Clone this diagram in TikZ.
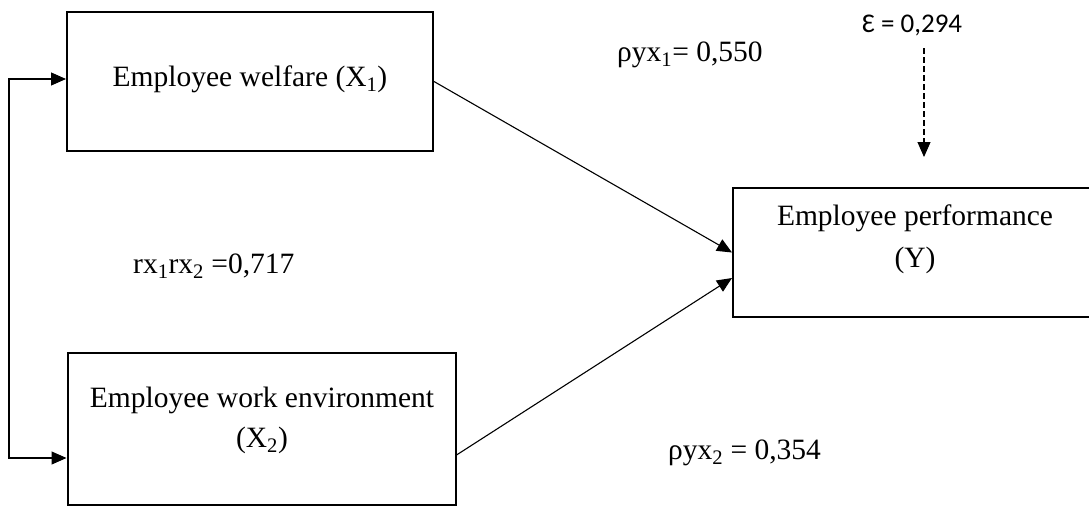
\documentclass[tikz,border=0pt]{standalone}
\usepackage{fontspec}
\setmainfont{Liberation Serif}
\newfontfamily\calib{Carlito}
\usetikzlibrary{arrows.meta}
\tikzset{
  boxnode/.style={draw, line width=2pt, minimum width=#1, inner sep=0pt},
  txt/.style={font=\fontsize{29.5}{34}\selectfont, inner sep=0pt, align=center},
  tip/.style={Triangle[length=15pt,width=13pt]},
  conn/.style={line width=1.1pt, -{Triangle[length=15pt,width=13pt]}},
}
\newcommand{\sbs}[1]{\textsubscript{#1}}
\begin{document}
\begin{tikzpicture}[x=1pt,y=-1pt]
\useasboundingbox (0,0) rectangle (1089,515);
% boxes
\node[boxnode=366pt, minimum height=139pt] (b1) at (250,81.5) {};
\node[boxnode=388pt, minimum height=152pt] (b2) at (261.5,429) {};
\node[boxnode=362pt, minimum height=129pt] (by) at (914,252.5) {};
% box texts
\node[txt] (t1) at (250,79) {Employee welfare (X\sbs{1})};
\node[txt] (t2a) at (262,400) {Employee work environment};
\node[txt] (t2b) at (262,440) {(X\sbs{2})};
\node[txt] (tya) at (915,218) {Employee performance};
\node[txt] (tyb) at (915,260) {(Y)};
% labels
\node[txt, anchor=west] (l1) at (617,55) {ρyx\sbs{1}= 0,550};
\node[txt, anchor=west] (l2) at (133,266) {rx\sbs{1}rx\sbs{2} =0,717};
\node[txt, anchor=west] (l3) at (668,453) {ρyx\sbs{2} = 0,354};
\node[txt, anchor=west, font=\calib\fontsize{27}{31}\selectfont] (eps) at (862,25) {Ɛ = 0,294};
\coordinate (epsend) at (924,157);
% connectors
\draw[conn] (b1.east) -- (by.west);
\draw[conn] ([yshift=-26pt]b2.east) -- ([yshift=-25.5pt]by.west);
\draw[line width=1.1pt, {Triangle[length=15pt,width=13pt]}-{Triangle[length=15pt,width=13pt]}]
  ([yshift=2.5pt]b1.west) -- ++(-57,0) |- ([yshift=-29pt]b2.west);
\draw[conn, dash pattern=on 6pt off 3pt] (epsend |- 0,48) -- (epsend);
\end{tikzpicture}
\end{document}
